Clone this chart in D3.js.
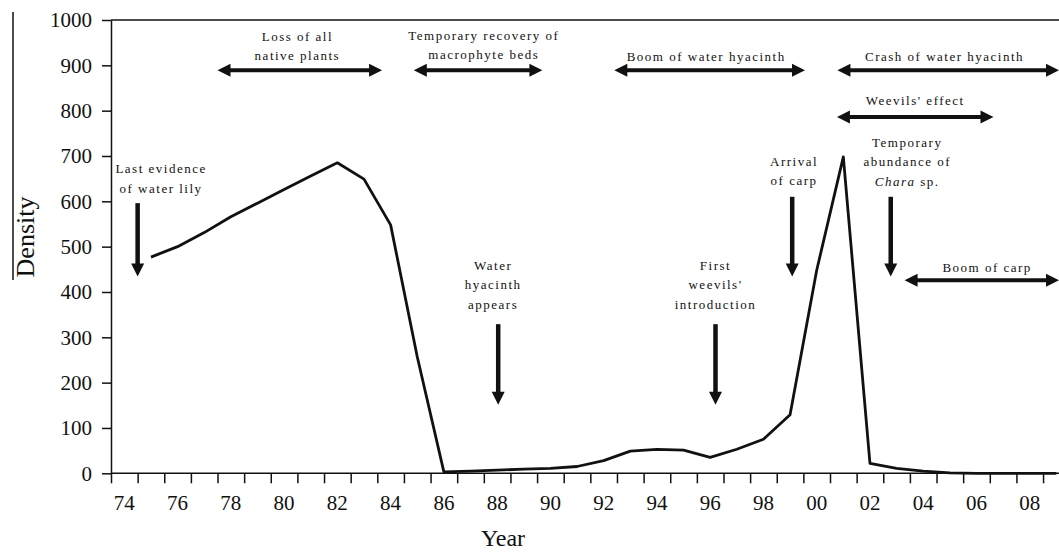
<!DOCTYPE html>
<html>
<head>
<meta charset="utf-8">
<script src="https://cdn.jsdelivr.net/npm/d3@7"></script>
<style>
body { margin: 0; background: #fff; }
svg { display: block; }
svg text { font-family: 'Liberation Serif', 'Times New Roman', serif; fill: #111; }
.note { font-size: 13px; letter-spacing: 1.5px; }
</style>
</head>
<body>
<div id="chart"></div>
<script>
var w = 1059;
var h = 552;
var serif = "'Liberation Serif', 'Times New Roman', serif";

// yearly density, 1975 - 2009
var years = d3.range(1975, 2010);
var density = [477, 500, 531, 566, 596, 626, 656, 685, 649, 548,
               257, 3, 5, 7, 9, 11, 15, 28, 49, 53,
               51, 35, 53, 75, 129, 448, 698, 22, 11, 5,
               1, 0, 0, 0, 0];

var yTicks = [0, 100, 200, 300, 400, 500, 600, 700, 800, 900, 1000];
var labelYears = d3.range(1974, 2010, 2);

// double headed arrows: from year, to year, at density
var spanFrom = [1978.0, 1985.37, 1992.9, 2001.28, 2001.26, 2003.8];
var spanTo   = [1984.18, 1990.2, 2000.06, 2009.6, 2007.14, 2009.6];
var spanAt   = [889, 889, 889, 889, 786, 426];

// downward arrows: year, top, tip
var dropAt  = [1975.0, 1988.54, 1996.7, 1999.58, 2003.28];
var dropTop = [596, 329, 329, 610, 610];
var dropTip = [434, 151, 151, 434, 434];

// text notes
var notes = [
  { x: 1981.0,  y: 954, lines: ["Loss of all", "native plants"] },
  { x: 1988.0,  y: 956, lines: ["Temporary recovery of", "macrophyte beds"] },
  { x: 1996.35, y: 909, lines: ["Boom of water hyacinth"] },
  { x: 2005.3,  y: 909, lines: ["Crash of water hyacinth"] },
  { x: 2004.2,  y: 812, lines: ["Weevils' effect"] },
  { x: 1975.88, y: 662, lines: ["Last evidence", "of water lily"] },
  { x: 1988.35, y: 449, lines: ["Water", "hyacinth", "appears"] },
  { x: 1996.7,  y: 449, lines: ["First", "weevils'", "introduction"] },
  { x: 1999.65, y: 678, lines: ["Arrival", "of carp"] },
  { x: 2003.9,  y: 720, lines: ["Temporary", "abundance of", "Chara|sp."] },
  { x: 2006.9,  y: 445, lines: ["Boom of carp"] }
];

var left = 111, step = 26.63;

var svg = d3.select("#chart").append("svg")
    .attr("width", w)
    .attr("height", h);

var x = d3.scaleBand()
    .domain(d3.range(1974, 2011))
    .range([left, left + 37 * step]);
var xl = d3.scaleLinear()
    .domain([1974, 2011])
    .range([left, left + 37 * step]);
var y = d3.scaleLinear()
    .domain([0, 1000])
    .range([473.3, 20]);

// stray frame line at the far left
svg.append("line")
    .attr("x1", 13).attr("x2", 13)
    .attr("y1", 12).attr("y2", 280)
    .attr("stroke", "#111").attr("stroke-width", 1.5);

// top border
svg.append("line")
    .attr("x1", left).attr("x2", w)
    .attr("y1", y(1000)).attr("y2", y(1000))
    .attr("stroke", "#111").attr("stroke-width", 1.5);

// x axis line
svg.append("line")
    .attr("x1", left).attr("x2", w)
    .attr("y1", y(0)).attr("y2", y(0))
    .attr("stroke", "#111").attr("stroke-width", 1.5);

// y axis
var yAxis = svg.append("g")
    .attr("transform", "translate(" + left + ",0)")
    .call(d3.axisLeft(y).tickValues(yTicks).tickSize(9).tickSizeOuter(0).tickPadding(10)
        .tickFormat(d3.format("d")));
yAxis.attr("font-family", serif).attr("font-size", 21);
yAxis.selectAll("line, path").attr("stroke", "#111").attr("stroke-width", 1.5);
yAxis.selectAll("text").attr("fill", "#111");

// x ticks on band edges
var xTicks = svg.append("g")
    .attr("transform", "translate(0," + y(0) + ")")
    .call(d3.axisBottom(xl).tickValues(d3.range(1974, 2012)).tickSize(10).tickSizeOuter(0).tickFormat(""));
xTicks.select(".domain").remove();
xTicks.selectAll("line").attr("stroke", "#111").attr("stroke-width", 1.5);

// x labels in band centres
var xLabels = svg.append("g")
    .attr("transform", "translate(0," + y(0) + ")")
    .call(d3.axisBottom(x).tickValues(labelYears).tickSize(0).tickPadding(22)
        .tickFormat(function(d) { return String(d).slice(2); }));
xLabels.attr("font-family", serif).attr("font-size", 21);
xLabels.select(".domain").remove();
xLabels.selectAll("text").attr("fill", "#111");

// axis titles
svg.append("text")
    .attr("x", 503).attr("y", 546)
    .attr("text-anchor", "middle")
    .style("font-size", "24px")
    .text("Year");

svg.append("text")
    .attr("transform", "translate(34,237) rotate(-90)")
    .attr("text-anchor", "middle")
    .style("font-size", "26px")
    .text("Density");

// density line
var series = years.map(function(yr, i) { return { year: yr, value: density[i] }; });
var line = d3.line()
    .x(function(d) { return x(d.year) + x.bandwidth() / 2; })
    .y(function(d) { return y(d.value); });

svg.append("path")
    .datum(series)
    .attr("d", line)
    .attr("fill", "none")
    .attr("stroke", "#111")
    .attr("stroke-width", 2.8)
    .attr("stroke-linejoin", "round");

// double arrows
var hl = 13, hw = 6.5;
spanFrom.forEach(function(f, i) {
    var x1 = xl(f), x2 = xl(spanTo[i]), yy = y(spanAt[i]);
    svg.append("line")
        .attr("x1", x1 + hl - 1).attr("x2", x2 - hl + 1)
        .attr("y1", yy).attr("y2", yy)
        .attr("stroke", "#111").attr("stroke-width", 4);
    svg.append("path")
        .attr("d", "M" + x1 + "," + yy + "L" + (x1 + hl) + "," + (yy - hw) + "L" + (x1 + hl) + "," + (yy + hw) + "Z")
        .attr("fill", "#111");
    svg.append("path")
        .attr("d", "M" + x2 + "," + yy + "L" + (x2 - hl) + "," + (yy - hw) + "L" + (x2 - hl) + "," + (yy + hw) + "Z")
        .attr("fill", "#111");
});

// down arrows
dropAt.forEach(function(a, i) {
    var xx = xl(a), y1 = y(dropTop[i]), y2 = y(dropTip[i]);
    svg.append("line")
        .attr("x1", xx).attr("x2", xx)
        .attr("y1", y1).attr("y2", y2 - hl + 1)
        .attr("stroke", "#111").attr("stroke-width", 4.5);
    svg.append("path")
        .attr("d", "M" + xx + "," + y2 + "L" + (xx - hw) + "," + (y2 - hl) + "L" + (xx + hw) + "," + (y2 - hl) + "Z")
        .attr("fill", "#111");
});

// notes
notes.forEach(function(n) {
    var t = svg.append("text")
        .attr("class", "note")
        .attr("text-anchor", "middle")
        .attr("x", xl(n.x))
        .attr("y", y(n.y));
    n.lines.forEach(function(l, j) {
        var parts = l.split("|");
        if (parts.length > 1) {
            var ts = t.append("tspan").attr("x", xl(n.x)).attr("dy", j ? 19.5 : 0);
            ts.append("tspan").style("font-style", "italic").text(parts[0]);
            ts.append("tspan").text("  " + parts[1]);
        } else {
            t.append("tspan")
                .attr("x", xl(n.x))
                .attr("dy", j ? 19.5 : 0)
                .text(l);
        }
    });
});
</script>
</body>
</html>
